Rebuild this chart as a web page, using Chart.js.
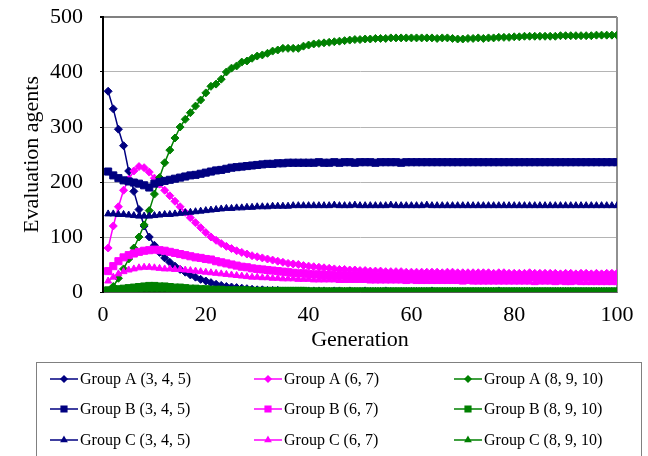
<!DOCTYPE html>
<html>
<head>
<meta charset="utf-8">
<script src="https://cdn.jsdelivr.net/npm/chart.js@4.4.0/dist/chart.umd.min.js"></script>
<style>
    html, body { margin: 0; padding: 0; background: #fff; }
    #wrap { width: 648px; height: 456px; }
</style>
</head>
<body>
<div id="wrap"><canvas id="grafic" width="648" height="456"></canvas></div>
<script>
// generations 1..100
const generations = Array.from({ length: 100 }, (_, i) => i + 1);

const groupA345 = [
    365, 333, 296, 266, 220, 183, 150, 120, 100, 85,
    72, 62, 54, 47, 41, 36, 31, 27, 23, 20,
    17, 14, 12, 10, 9, 8, 7, 6, 5, 4,
    4, 3, 3, 3, 2, 2, 2, 2, 2, 2,
    2, 2, 2, 1, 2, 2, 1, 2, 1, 1,
    2, 1, 1, 1, 2, 1, 1, 1, 1, 1,
    1, 1, 1, 2, 1, 1, 1, 1, 1, 1,
    1, 1, 1, 1, 1, 1, 2, 1, 1, 1,
    1, 1, 1, 1, 1, 1, 1, 1, 1, 1,
    1, 1, 1, 1, 1, 1, 1, 1, 1, 1
];
const groupA67 = [
    80, 120, 155, 185, 205, 220, 228, 226, 218, 207,
    196, 185, 175, 165, 155, 145, 135, 126, 117, 108,
    100, 94, 88, 83, 79, 75, 72, 69, 66, 64,
    62, 60, 58, 56, 54, 52, 51, 50, 48, 47,
    46, 45, 44, 43, 42, 41, 41, 40, 40, 39,
    39, 38, 38, 38, 37, 37, 37, 37, 36, 36,
    36, 36, 36, 36, 36, 35, 36, 36, 35, 35,
    35, 35, 35, 35, 35, 34, 35, 35, 34, 34,
    34, 34, 35, 34, 34, 34, 34, 34, 33, 34,
    34, 33, 34, 34, 33, 34, 33, 34, 34, 34
];
const groupA8910 = [
    2, 10, 25, 42, 60, 80, 100, 122, 148, 178,
    208, 235, 258, 280, 300, 314, 326, 338, 349, 362,
    374, 378, 387, 400, 407, 411, 418, 420, 425, 429,
    431, 434, 438, 440, 443, 443, 443, 443, 447, 449,
    451, 452, 453, 454, 455, 456, 457, 458, 459, 459,
    460, 460, 461, 461, 461, 462, 462, 462, 462, 462,
    462, 462, 462, 462, 461, 462, 462, 461, 460, 460,
    461, 461, 462, 461, 462, 462, 463, 463, 463, 464,
    464, 465, 465, 465, 465, 465, 465, 465, 466, 466,
    466, 466, 466, 466, 466, 467, 467, 467, 467, 467
];
const groupB345 = [
    219, 212, 207, 203, 201, 199, 197, 194, 190, 197,
    200, 202, 204, 206, 208, 210, 212, 213, 215, 217,
    219, 221, 222, 224, 226, 227, 228, 229, 230, 231,
    232, 233, 233, 234, 234, 235, 235, 235, 235, 235,
    235, 236, 235, 235, 236, 235, 236, 236, 235, 236,
    236, 236, 235, 236, 236, 236, 236, 235, 236, 236,
    236, 236, 236, 236, 236, 236, 236, 236, 236, 236,
    236, 236, 236, 236, 236, 236, 236, 236, 236, 236,
    236, 236, 236, 236, 236, 236, 236, 236, 236, 236,
    236, 236, 236, 236, 236, 236, 236, 236, 236, 236
];
const groupB67 = [
    38, 47, 56, 63, 67, 70, 73, 75, 76, 77,
    76, 75, 73, 71, 69, 67, 65, 63, 62, 60,
    59, 56, 54, 52, 50, 48, 46, 45, 43, 42,
    41, 40, 39, 38, 37, 36, 35, 34, 34, 33,
    32, 32, 31, 31, 30, 30, 30, 29, 29, 29,
    29, 29, 28, 28, 28, 28, 28, 28, 28, 28,
    28, 27, 28, 28, 27, 27, 27, 28, 27, 27,
    27, 27, 27, 27, 27, 27, 27, 26, 27, 27,
    27, 26, 27, 27, 26, 26, 27, 26, 26, 26,
    26, 26, 26, 27, 26, 26, 26, 26, 26, 26
];
const groupB8910 = [
    3, 4, 5, 6, 7, 8, 9, 10, 11, 11,
    10, 10, 9, 8, 8, 7, 6, 6, 5, 5,
    4, 4, 4, 3, 3, 3, 3, 3, 2, 2,
    2, 2, 2, 2, 2, 2, 2, 2, 2, 1,
    1, 1, 1, 1, 1, 1, 1, 1, 1, 1,
    1, 1, 1, 1, 1, 1, 1, 1, 1, 1,
    1, 1, 1, 1, 1, 1, 1, 1, 1, 1,
    1, 1, 1, 1, 1, 1, 1, 1, 1, 1,
    1, 1, 1, 1, 1, 1, 1, 1, 1, 1,
    1, 1, 1, 1, 1, 1, 1, 1, 1, 1
];
const groupC345 = [
    142, 142, 141, 141, 140, 139, 138, 138, 138, 139,
    140, 141, 141, 142, 143, 144, 145, 146, 147, 148,
    149, 150, 151, 152, 152, 153, 153, 154, 154, 155,
    155, 155, 156, 156, 156, 156, 157, 157, 157, 157,
    157, 157, 157, 157, 158, 157, 157, 157, 158, 157,
    157, 157, 157, 157, 157, 158, 157, 157, 157, 157,
    157, 157, 158, 157, 157, 157, 157, 157, 157, 157,
    157, 157, 157, 157, 157, 157, 157, 157, 157, 157,
    157, 157, 157, 157, 157, 157, 157, 157, 157, 157,
    157, 157, 157, 157, 157, 157, 157, 157, 157, 157
];
const groupC67 = [
    20, 27, 33, 37, 40, 42, 44, 45, 45, 44,
    43, 42, 42, 41, 41, 40, 39, 38, 37, 36,
    35, 34, 33, 32, 31, 30, 29, 28, 27, 27,
    26, 26, 25, 25, 24, 24, 24, 23, 23, 23,
    22, 22, 22, 22, 22, 21, 21, 21, 21, 21,
    21, 20, 20, 20, 20, 20, 20, 20, 19, 20,
    19, 19, 19, 19, 19, 19, 19, 19, 19, 18,
    19, 18, 18, 18, 18, 18, 18, 18, 18, 18,
    18, 18, 18, 17, 18, 18, 18, 17, 18, 17,
    17, 18, 17, 17, 17, 17, 17, 17, 17, 17
];
const groupC8910 = [
    1, 2, 2, 3, 3, 4, 4, 5, 5, 5,
    5, 5, 4, 4, 4, 3, 3, 3, 3, 2,
    2, 2, 2, 2, 2, 2, 1, 1, 1, 1,
    1, 1, 1, 1, 1, 1, 1, 1, 1, 1,
    1, 1, 1, 1, 0, 1, 1, 1, 0, 0,
    0, 0, 0, 0, 0, 0, 0, 0, 0, 0,
    0, 0, 0, 0, 0, 0, 0, 0, 0, 0,
    0, 0, 0, 0, 0, 0, 0, 0, 0, 0,
    0, 0, 0, 0, 0, 0, 0, 0, 0, 0,
    0, 0, 0, 0, 0, 0, 0, 0, 0, 0
];

const seriesLabels = [
    'Group A (3, 4, 5)', 'Group A (6, 7)', 'Group A (8, 9, 10)',
    'Group B (3, 4, 5)', 'Group B (6, 7)', 'Group B (8, 9, 10)',
    'Group C (3, 4, 5)', 'Group C (6, 7)', 'Group C (8, 9, 10)'
];
const seriesValues = [
    groupA345, groupA67, groupA8910,
    groupB345, groupB67, groupB8910,
    groupC345, groupC67, groupC8910
];

const NAVY = '#000080', PINK = '#ff00ff', GREEN = '#008000';
const colors = [NAVY, PINK, GREEN];
const markers = [
    { style: 'rectRot', radius: 4 },
    { style: 'rect', radius: 5 },
    { style: 'triangle', radius: 4 }
];

const datasets = seriesValues.map((vals, i) => {
    const c = colors[i % 3];
    const m = markers[Math.floor(i / 3)];
    return {
        label: seriesLabels[i],
        data: vals,
        borderColor: c,
        backgroundColor: c,
        borderWidth: 1.5,
        pointStyle: m.style,
        pointRadius: m.radius,
        pointBackgroundColor: c,
        pointBorderColor: c,
        pointBorderWidth: 1,
        tension: 0,
        order: 9 - i  // later series sit on top
    };
});

// frame line on the right of the plot area
const plotFrame = {
    id: 'plotFrame',
    beforeDatasetsDraw(chart) {
        const { ctx, chartArea: a } = chart;
        ctx.save();
        ctx.strokeStyle = '#909090';
        ctx.lineWidth = 2;
        ctx.beginPath();
        ctx.moveTo(a.right, a.top);
        ctx.lineTo(a.right, a.bottom);
        ctx.stroke();
        ctx.restore();
    }
};

// boxed legend, three columns
const legendBox = {
    id: 'legendBox',
    afterDraw(chart) {
        const ctx = chart.ctx;
        const colX = [50, 254, 454];
        const rowY = [379, 409, 440];
        ctx.save();
        ctx.strokeStyle = '#808080';
        ctx.lineWidth = 1;
        ctx.strokeRect(36.5, 362.5, 605, 120);
        ctx.font = "16px 'Liberation Serif'";
        ctx.textBaseline = 'middle';
        ctx.fillStyle = '#000';
        chart.data.datasets.forEach((ds, i) => {
            const x = colX[i % 3], y = rowY[Math.floor(i / 3)];
            ctx.strokeStyle = ds.borderColor;
            ctx.lineWidth = 1.5;
            ctx.beginPath();
            ctx.moveTo(x, y);
            ctx.lineTo(x + 28, y);
            ctx.stroke();
            ctx.fillStyle = ds.borderColor;
            Chart.helpers.drawPoint(ctx, {
                pointStyle: ds.pointStyle,
                radius: ds.pointStyle === 'rect' ? 4 : 3,
                rotation: 0,
                borderWidth: 1
            }, x + 14, y);
            ctx.fillStyle = '#000';
            ctx.fillText(ds.label, x + 30, y + 1);
        });
        ctx.restore();
    }
};

Chart.defaults.font.family = "'Liberation Serif', 'Times New Roman', serif";
Chart.defaults.color = '#000';

new Chart(document.getElementById('grafic').getContext('2d'), {
    type: 'line',
    data: { labels: generations, datasets: datasets },
    options: {
        responsive: false,
        animation: false,
        layout: { padding: { left: 14, right: 31, top: 17, bottom: 100 } },
        plugins: { legend: { display: false }, tooltip: { enabled: false } },
        scales: {
            x: {
                type: 'linear',
                min: 0,
                max: 100,
                afterFit(scale) { scale.height = 64; },
                ticks: { stepSize: 20, padding: 2, maxRotation: 0, font: { size: 22 } },
                grid: { display: false },
                border: { color: '#000', width: 1.5 },
                title: { display: true, text: 'Generation', font: { size: 22 }, padding: { top: 0, bottom: 3 } }
            },
            y: {
                min: 0,
                max: 500,
                afterFit(scale) {
                    scale.width = 89;
                    // the label gap should not push the plot down
                    scale.paddingTop = 0;
                    scale.paddingBottom = 0;
                },
                ticks: { stepSize: 100, padding: 17, font: { size: 22 } },
                grid: {
                    color: c => c.tick.value === 500 ? '#808080' : '#b4b4b4',
                    lineWidth: c => c.tick.value === 500 ? 2 : 1,
                    tickLength: 3,
                    tickColor: '#000'
                },
                border: { color: '#000', width: 2 },
                title: { display: true, text: 'Evaluation agents', font: { size: 22 }, padding: { top: 5 } }
            }
        }
    },
    plugins: [plotFrame, legendBox]
});
</script>
</body>
</html>
